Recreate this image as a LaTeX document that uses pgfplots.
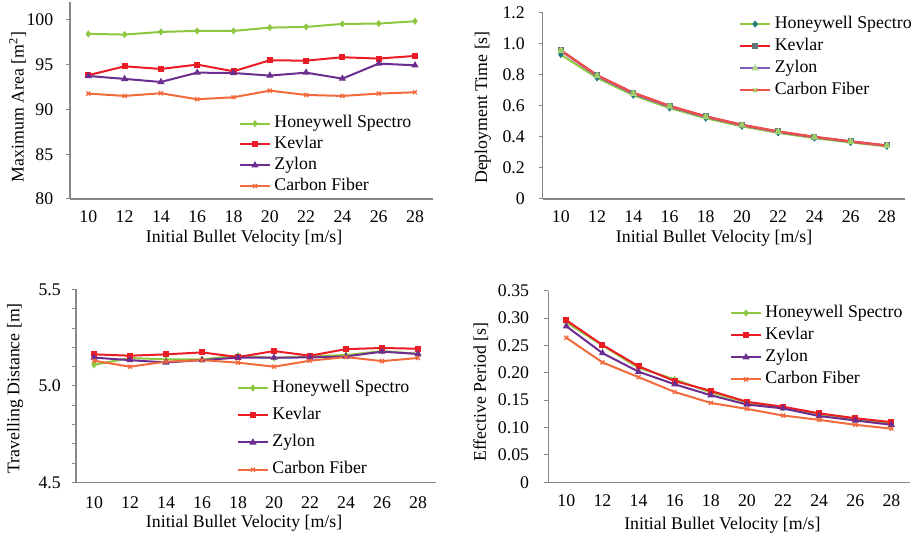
\documentclass[border=0pt]{standalone}
\usepackage{fontspec}
\setmainfont{Liberation Serif}
\usepackage{pgfplots}
\pgfplotsset{compat=1.18}
\usepackage{pgfplotstable}

\definecolor{hw}{HTML}{8DC63F}
\definecolor{kv}{HTML}{EC1C24}
\definecolor{zy}{HTML}{6B2D90}
\definecolor{cf}{HTML}{F26B3D}
\definecolor{axgray}{HTML}{878787}
\definecolor{teal2}{HTML}{1F7C7C}
\definecolor{slate}{HTML}{5E7777}
\definecolor{zyB}{HTML}{7E5CC0}
\definecolor{ltgreen}{HTML}{B3D98B}
\definecolor{cfB}{HTML}{F0504C}
\definecolor{mgreen}{HTML}{9CC95A}

\newcommand\fs{\fontsize{17.8bp}{21bp}\selectfont}

\pgfplotstableread{
x hw kv zy cf
10 98.44 93.82 93.74 91.77
12 98.36 94.82 93.41 91.51
14 98.66 94.52 93.07 91.81
16 98.77 95.01 94.11 91.14
18 98.77 94.26 94.07 91.36
20 99.14 95.49 93.78 92.10
22 99.22 95.45 94.11 91.62
24 99.55 95.83 93.44 91.51
26 99.59 95.68 95.12 91.77
28 99.85 95.98 94.93 91.92
}\tabA

\pgfplotstableread{
x hw kv zy cf
10 0.930 0.958 0.955 0.957
12 0.780 0.797 0.792 0.796
14 0.668 0.684 0.678 0.683
16 0.586 0.600 0.595 0.599
18 0.520 0.532 0.528 0.531
20 0.468 0.478 0.475 0.477
22 0.426 0.435 0.432 0.434
24 0.392 0.400 0.398 0.400
26 0.364 0.371 0.369 0.370
28 0.339 0.345 0.343 0.344
}\tabB

\pgfplotstableread{
x hw kv zy cf
10 5.110 5.164 5.147 5.131
12 5.145 5.157 5.134 5.100
14 5.138 5.164 5.122 5.126
16 5.138 5.174 5.134 5.134
18 5.157 5.150 5.147 5.121
20 5.145 5.181 5.147 5.100
22 5.155 5.157 5.148 5.131
24 5.160 5.191 5.153 5.150
26 5.181 5.197 5.178 5.129
28 5.167 5.193 5.166 5.145
}\tabC

\pgfplotstableread{
x hw kv zy cf
10 0.292 0.296 0.285 0.264
12 0.250 0.251 0.236 0.219
14 0.209 0.212 0.202 0.192
16 0.188 0.185 0.179 0.165
18 0.164 0.167 0.159 0.145
20 0.146 0.147 0.142 0.134
22 0.136 0.138 0.135 0.122
24 0.125 0.126 0.121 0.114
26 0.115 0.117 0.113 0.105
28 0.108 0.110 0.105 0.098
}\tabD

\pgfplotsset{
  base/.style={
    scale only axis,
    axis x line=bottom, axis y line=left,
    axis line style={-, draw=axgray, line width=1.3bp},
    xmin=9, xmax=29, xtick={10,12,...,28},
    xticklabels={10,12,14,16,18,20,22,24,26,28},
    xtick style={draw=none},
    ytick style={draw=axgray, line width=1bp},
    tick align=outside, major tick length=4bp,
    every tick label/.append style={font=\fs, inner sep=0pt, text=black},
    label style={font=\fs},
    /pgf/number format/assume math mode=true,
    legend cell align=left,
    legend style={draw=none, fill=none, inner sep=0pt, outer sep=0pt, font=\fs, anchor=north west,
      nodes={inner sep=0pt, text height=12bp, text depth=4bp}, column sep=3.5bp},
    legend image code/.code={\draw[##1] (0bp,0bp) -- (30bp,0bp); \draw[##1] plot coordinates {(15bp,0bp)};},
  },
  hwS/.style={color=hw, line width=2bp, mark=diamond*, mark size=2.8bp, mark options={solid, line width=1bp}},
  kvS/.style={color=kv, line width=2bp, mark=square*, mark size=2.5bp, mark options={solid, line width=1bp}},
  zyS/.style={color=zy, line width=2bp, mark=triangle*, mark size=3.2bp, mark options={solid, line width=1bp}},
  cfS/.style={color=cf, line width=2bp, mark=x, mark size=2.8bp, mark options={solid, line width=1.3bp}},
}

\begin{document}
\fs
\begin{tikzpicture}
\useasboundingbox (0,0) rectangle (914bp,539bp);

% Panel 1
\begin{axis}[base, at={(70.15bp,340bp)}, anchor=south west, width=363bp, height=197bp,
  ymin=80, ymax=102, ytick={80,85,90,95,100}, yticklabels={80,85,90,95,100},
  yticklabel style={anchor=east, xshift=-12.7bp},
  xticklabel style={anchor=center, yshift=-14bp},
  xlabel={Initial Bullet Velocity [m/s]},
  xlabel style={at={(axis description cs:0.479,-0.198)}, anchor=center},
  ylabel={Maximum Area [m\textsuperscript{2}]},
  ylabel style={at={(axis description cs:-0.145,0.467)}, anchor=center},
  legend style={at={(axis description cs:0.465,0.423)}, row sep=4.8bp}]
\addplot[hwS] table[x=x,y=hw] {\tabA};
\addlegendentry{Honeywell Spectro}
\addplot[kvS] table[x=x,y=kv] {\tabA};
\addlegendentry{Kevlar}
\addplot[zyS] table[x=x,y=zy] {\tabA};
\addlegendentry{Zylon}
\addplot[cfS] table[x=x,y=cf] {\tabA};
\addlegendentry{Carbon Fiber}
\end{axis}

% Panel 2
\begin{axis}[base, at={(542.7bp,340bp)}, anchor=south west, width=362.3bp, height=186.3bp,
  ymin=0, ymax=1.2, ytick={0,0.2,0.4,0.6,0.8,1.0,1.2}, yticklabels={0,0.2,0.4,0.6,0.8,1.0,1.2},
  yticklabel style={anchor=east, xshift=-13.7bp},
  xticklabel style={anchor=center, yshift=-14bp},
  xlabel={Initial Bullet Velocity [m/s]},
  xlabel style={at={(axis description cs:0.473,-0.211)}, anchor=center},
  ylabel={Deployment Time [s]},
  ylabel style={at={(axis description cs:-0.165,0.491)}, anchor=center},
  legend style={at={(axis description cs:0.542,0.982)}, row sep=6.1bp}]
\addplot[color=hw, line width=2bp, mark=diamond*, mark size=2.8bp, mark options={solid, line width=1bp, draw=teal2, fill=teal2}] table[x=x,y=hw] {\tabB};
\addlegendentry{Honeywell Spectro}
\addplot[color=kv, line width=2.2bp, mark=square*, mark size=2.5bp, mark options={solid, line width=1bp, draw=slate, fill=slate}] table[x=x,y=kv] {\tabB};
\addlegendentry{Kevlar}
\addplot[color=zyB, line width=2bp, mark=triangle*, mark size=3.2bp, mark options={solid, line width=1bp, draw=ltgreen, fill=ltgreen}] table[x=x,y=zy] {\tabB};
\addlegendentry{Zylon}
\addplot[color=cfB, line width=2bp, mark=x, mark size=2.8bp, mark options={solid, draw=mgreen, line width=1.3bp}] table[x=x,y=cf] {\tabB};
\addlegendentry{Carbon Fiber}
\end{axis}

% Panel 3
\begin{axis}[base, at={(76bp,56.5bp)}, anchor=south west, width=360bp, height=193bp,
  ymin=4.5, ymax=5.5, ytick={4.5,4.6,4.7,4.8,4.9,5.0,5.1,5.2,5.3,5.4,5.5},
  yticklabels={4.5,,,,,5.0,,,,,5.5},
  yticklabel style={anchor=east, xshift=-11bp},
  xticklabel style={anchor=center, yshift=-16bp},
  xlabel={Initial Bullet Velocity [m/s]},
  xlabel style={at={(axis description cs:0.467,-0.211)}, anchor=center},
  ylabel={Travelling Distance [m]},
  ylabel style={at={(axis description cs:-0.169,0.488)}, anchor=center},
  legend style={at={(axis description cs:0.447,0.531)}, row sep=11.2bp}]
\addplot[hwS] table[x=x,y=hw] {\tabC};
\addlegendentry{Honeywell Spectro}
\addplot[kvS] table[x=x,y=kv] {\tabC};
\addlegendentry{Kevlar}
\addplot[zyS] table[x=x,y=zy] {\tabC};
\addlegendentry{Zylon}
\addplot[cfS] table[x=x,y=cf] {\tabC};
\addlegendentry{Carbon Fiber}
\end{axis}

% Panel 4
\begin{axis}[base, at={(548.3bp,56.7bp)}, anchor=south west, width=361.2bp, height=191.6bp,
  ymin=0, ymax=0.35, ytick={0,0.05,0.1,0.15,0.2,0.25,0.3,0.35},
  yticklabels={0,0.05,0.10,0.15,0.20,0.25,0.30,0.35},
  yticklabel style={anchor=east, xshift=-15bp},
  xticklabel style={anchor=center, yshift=-14.5bp},
  xlabel={Initial Bullet Velocity [m/s]},
  xlabel style={at={(axis description cs:0.482,-0.223)}, anchor=center},
  ylabel={Effective Period [s]},
  ylabel style={at={(axis description cs:-0.187,0.47)}, anchor=center},
  legend style={at={(axis description cs:0.503,0.925)}, row sep=6.1bp}]
\addplot[hwS] table[x=x,y=hw] {\tabD};
\addlegendentry{Honeywell Spectro}
\addplot[kvS] table[x=x,y=kv] {\tabD};
\addlegendentry{Kevlar}
\addplot[zyS] table[x=x,y=zy] {\tabD};
\addlegendentry{Zylon}
\addplot[cfS] table[x=x,y=cf] {\tabD};
\addlegendentry{Carbon Fiber}
\end{axis}
\end{tikzpicture}
\end{document}
